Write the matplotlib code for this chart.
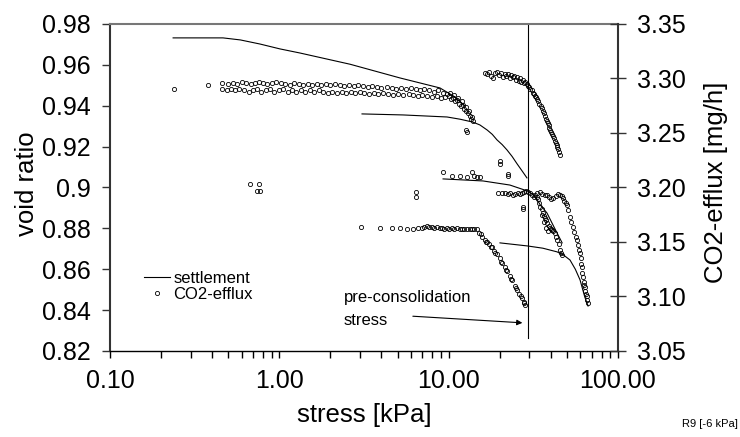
import matplotlib
matplotlib.use("Agg")
import matplotlib.pyplot as plt
from matplotlib.lines import Line2D
from matplotlib.ticker import NullFormatter

plt.rcParams['font.family'] = ['Liberation Sans', 'DejaVu Sans']

# settlement curves (void ratio, left axis)
s1_stress = [0.236, 0.465, 0.589, 0.769, 1.01, 1.325, 2.62, 5.16, 8.89, 10.9, 12.5]
s1_void = [0.9732, 0.9732, 0.9722, 0.9702, 0.9678, 0.9658, 0.9603, 0.9536, 0.9487, 0.9443, 0.9399]
s2_stress = [3.08, 5.38, 9.79, 11.7, 13.9, 15.3, 16.9, 18.1, 19.3, 20.7, 22.1, 23.7, 25.4, 27.1, 29.0]
s2_void = [0.936, 0.9355, 0.9345, 0.9334, 0.932, 0.9306, 0.9281, 0.926, 0.9233, 0.9210, 0.9184,
           0.9152, 0.9115, 0.9082, 0.9047]
s3_stress = [9.27, 15.96, 23.0, 29.2, 31.5, 33.2, 34.8, 36.4, 38.1, 42.0, 46.8]
s3_void = [0.9042, 0.9032, 0.9012, 0.8983, 0.8965, 0.8942, 0.8914, 0.8895, 0.8875, 0.8805, 0.8729]
s4_stress = [20.1, 29.2, 36.0, 43.7, 48.0, 52.1, 56.0, 59.7, 63.7, 66.6]
s4_void = [0.8729, 0.8714, 0.8703, 0.8685, 0.8668, 0.8645, 0.8600, 0.8548, 0.8464, 0.842]

# CO2 efflux (mg/h, right axis)
a_stress = [0.24, 0.38,
            0.46, 0.50, 0.53, 0.56, 0.60, 0.64, 0.68, 0.72, 0.76, 0.80, 0.85, 0.90, 0.96, 1.02, 1.08,
            1.15, 1.22, 1.30, 1.38, 1.47, 1.56, 1.66, 1.77, 1.88, 2.00, 2.13, 2.27, 2.42, 2.58, 2.75,
            2.93, 3.12, 3.32, 3.54, 3.77, 4.0, 4.3, 4.6, 4.9, 5.2, 5.6, 6.0, 6.4, 6.8, 7.2, 7.7, 8.2,
            8.7, 9.2, 9.8,
            0.46, 0.49, 0.52, 0.55, 0.58, 0.62, 0.66, 0.70, 0.74, 0.78, 0.83, 0.88, 0.93, 0.99, 1.05,
            1.12, 1.19, 1.26, 1.34, 1.42, 1.51, 1.61, 1.71, 1.82, 1.94, 2.06, 2.19, 2.33, 2.48, 2.64,
            2.81, 2.99, 3.18, 3.39, 3.61, 3.85, 4.1, 4.4, 4.7, 5.0, 5.4, 5.8, 6.2, 6.6, 7.0, 7.5, 8.0,
            8.5, 9.0, 9.5,
            10.0, 10.3, 10.6, 10.9, 11.2, 11.5, 11.8, 12.1, 12.4, 12.7, 13.0, 13.3, 13.6, 13.9,
            10.2, 10.8, 11.4, 12.0, 12.6, 13.2, 13.8]
a_co2 = [3.290, 3.294,
         3.296, 3.295, 3.296, 3.295, 3.297, 3.296, 3.295, 3.296, 3.297, 3.296, 3.295, 3.296, 3.297,
         3.296, 3.295, 3.294, 3.296, 3.295, 3.294, 3.295, 3.294, 3.295, 3.294, 3.295, 3.294, 3.295,
         3.294, 3.293, 3.294, 3.293, 3.294, 3.293, 3.292, 3.293, 3.292, 3.291, 3.292, 3.291, 3.290,
         3.291, 3.290, 3.291, 3.290, 3.289, 3.290, 3.289, 3.288, 3.289, 3.287, 3.286,
         3.290, 3.289, 3.290, 3.289, 3.290, 3.289, 3.288, 3.289, 3.290, 3.288, 3.289, 3.290, 3.288,
         3.289, 3.290, 3.288, 3.289, 3.288, 3.289, 3.288, 3.289, 3.288, 3.289, 3.288, 3.287, 3.288,
         3.287, 3.288, 3.287, 3.288, 3.287, 3.288, 3.287, 3.286, 3.287, 3.286, 3.287, 3.286, 3.285,
         3.286, 3.285, 3.286, 3.285, 3.284, 3.285, 3.284, 3.283, 3.284, 3.282, 3.283,
         3.284, 3.281, 3.282, 3.279, 3.280, 3.277, 3.275, 3.276, 3.272, 3.270, 3.268, 3.266, 3.263,
         3.261,
         3.287, 3.285, 3.282, 3.279, 3.274, 3.270, 3.265]

b_stress = [16.4, 16.9, 17.4, 17.9, 18.4, 18.9, 19.4, 19.9, 20.4, 20.9, 21.4, 21.9, 22.4, 22.9,
            23.4, 23.9, 24.4, 24.9, 25.4, 25.9, 26.4, 26.9, 27.4, 27.9, 28.4, 28.9, 29.4, 29.9,
            30.4, 30.9, 31.4, 31.9, 32.4, 32.9, 33.4, 33.9, 34.4, 34.9, 35.4, 35.9, 36.4, 36.9,
            37.4, 37.9, 38.4, 38.9, 39.4, 39.9, 40.4, 40.9, 41.4, 41.9, 42.4, 42.9, 43.4, 43.9,
            44.4, 44.9, 45.4]
b_co2 = [3.305, 3.304, 3.306, 3.302, 3.300, 3.305, 3.306, 3.303, 3.305, 3.301, 3.304, 3.302,
         3.304, 3.300, 3.303, 3.301, 3.302, 3.299, 3.301, 3.298, 3.300, 3.297, 3.299, 3.296,
         3.297, 3.295, 3.293, 3.292, 3.290, 3.289, 3.287, 3.286, 3.284, 3.283, 3.281, 3.279,
         3.277, 3.275, 3.273, 3.270, 3.268, 3.266, 3.263, 3.261, 3.259, 3.257, 3.255, 3.253,
         3.251, 3.249, 3.247, 3.245, 3.243, 3.241, 3.239, 3.237, 3.235, 3.233, 3.230]

c_stress = [9.27, 10.5, 11.7, 12.8, 13.7, 14.2, 14.7, 15.3,
            19.6, 20.6, 21.5, 22.3, 23.1, 24.0, 24.8, 25.6, 26.4, 27.2, 28.0, 28.8, 29.6, 30.4,
            31.2, 32.0,
            32.5, 33.2, 33.7, 34.2, 34.8, 35.4, 36.1, 36.6, 37.0, 37.6, 38.1, 38.9, 39.7, 40.3,
            40.8, 41.6, 42.4, 43.0, 43.7, 44.6, 45.5, 46.2, 46.8, 35.8, 36.8, 37.8, 38.5,
            33.3, 34.5, 35.7, 36.9, 38.1, 39.2, 40.4, 41.6, 42.8, 44.0, 45.5, 46.5, 47.4, 48.2,
            49.1, 50.0, 51.0, 52.0, 53.1, 54.2, 55.3, 56.3, 57.2, 58.0, 58.8, 59.5, 60.2, 60.8,
            61.2, 61.6, 62.0, 62.7, 63.2, 63.7, 64.3, 64.9, 65.5, 66.0, 66.3]
c_co2 = [3.214, 3.211, 3.211, 3.210, 3.214, 3.211, 3.210, 3.210,
         3.195, 3.195, 3.195, 3.194, 3.195, 3.193, 3.194, 3.195, 3.194, 3.195, 3.196, 3.197,
         3.196, 3.195, 3.193, 3.191,
         3.193, 3.191, 3.189, 3.186, 3.182, 3.180, 3.177, 3.174, 3.172, 3.170, 3.167, 3.165,
         3.163, 3.162, 3.161, 3.160, 3.158, 3.155, 3.152, 3.148, 3.143, 3.140, 3.138, 3.175,
         3.168, 3.163, 3.160,
         3.195, 3.196, 3.194, 3.193, 3.193, 3.191, 3.189, 3.190, 3.192, 3.194, 3.193, 3.192,
         3.190, 3.188, 3.186, 3.184, 3.179, 3.173, 3.168, 3.164, 3.159, 3.155, 3.152, 3.147,
         3.143, 3.140, 3.135, 3.130, 3.127, 3.122, 3.118, 3.113, 3.111, 3.109, 3.105, 3.102,
         3.100, 3.097, 3.094]

d_stress = [3.04, 3.93, 4.63, 5.16, 5.67, 6.15, 6.6, 6.95, 7.2, 7.45, 7.7, 7.98, 8.25, 8.54, 8.85,
            9.14, 9.45, 9.79, 10.1, 10.47, 10.8, 11.2, 11.6, 12.0, 12.4, 12.85, 13.3, 13.75, 14.2,
            14.7, 15.2, 15.7, 16.3, 16.9, 17.4, 18.0, 18.6, 19.3, 20.0, 20.7, 21.4, 22.1, 22.9,
            23.7, 24.5, 25.4, 26.2, 27.1, 27.7, 28.3,
            15.5, 16.6, 17.7, 18.9, 20.3, 21.8, 23.3, 24.9, 26.6, 28.0]
d_co2 = [3.164, 3.163, 3.163, 3.163, 3.162, 3.162, 3.163, 3.163, 3.164, 3.165, 3.164, 3.164,
         3.163, 3.164, 3.163, 3.163, 3.162, 3.163, 3.162, 3.163, 3.162, 3.163, 3.162, 3.162,
         3.162, 3.162, 3.162, 3.162, 3.162, 3.162, 3.158, 3.155, 3.152, 3.150, 3.148, 3.145,
         3.142, 3.139, 3.135, 3.131, 3.127, 3.123, 3.119, 3.115, 3.110, 3.106, 3.102, 3.099,
         3.095, 3.092,
         3.157, 3.150, 3.145, 3.140, 3.132, 3.124, 3.116, 3.108, 3.100, 3.094]

# stray measurements
e_stress = [0.67, 0.76, 0.74, 0.77, 12.7, 12.8, 20.1, 20.2, 22.4, 22.5, 6.4, 6.45, 27.5, 27.6]
e_co2 = [3.203, 3.203, 3.197, 3.197, 3.253, 3.251, 3.224, 3.222, 3.212, 3.211, 3.196, 3.191,
         3.182, 3.180]

pc_stress = 29.5

x_ticks = [0.1, 1, 10, 100]
x_labels = ["0.10", "1.00", "10.00", "100.00"]
void_ticks = [0.82, 0.84, 0.86, 0.88, 0.90, 0.92, 0.94, 0.96, 0.98]
void_labels = ["0.82", "0.84", "0.86", "0.88", "0.9", "0.92", "0.94", "0.96", "0.98"]
co2_ticks = [3.05, 3.10, 3.15, 3.20, 3.25, 3.30, 3.35]
co2_labels = ["3.05", "3.10", "3.15", "3.20", "3.25", "3.30", "3.35"]

fig = plt.figure(figsize=(7.4, 4.37), dpi=100)
ax = fig.add_axes([0.1486, 0.1968, 0.6865, 0.7483])
ax2 = ax.twinx()

for xs, ys in [(s1_stress, s1_void), (s2_stress, s2_void), (s3_stress, s3_void), (s4_stress, s4_void)]:
    ax.plot(xs, ys, color='black', lw=0.8)

for xs, ys in [(a_stress, a_co2), (b_stress, b_co2), (c_stress, c_co2), (d_stress, d_co2), (e_stress, e_co2)]:
    ax2.plot(xs, ys, 'o', ls='none', ms=3, mfc='none', mec='black', mew=0.6)

ax.axvline(pc_stress, ymin=0.04, ymax=1, color='black', lw=0.8)

ax.set_xscale('log')
ax.set_xlim(0.1, 100)
ax.set_ylim(0.82, 0.98)
ax2.set_ylim(3.05, 3.35)
ax.set_xticks(x_ticks, labels=x_labels)
ax.xaxis.set_minor_formatter(NullFormatter())
ax.set_yticks(void_ticks, labels=void_labels)
ax2.set_yticks(co2_ticks, labels=co2_labels)

ax.tick_params(axis='y', direction='out', length=6, width=1, color='#333333', labelsize=18, pad=8)
ax.tick_params(axis='x', which='both', direction='out', length=5, width=1, labelsize=18, pad=8)
ax2.tick_params(axis='y', direction='inout', length=12, width=1, color='#333333', labelsize=18, pad=8)

ax.spines['top'].set_color('#777777')
ax.spines['top'].set_linewidth(1.5)
ax.spines['left'].set_color('#333333')
ax.spines['left'].set_linewidth(1.5)
ax.spines['bottom'].set_color('black')
ax.spines['bottom'].set_linewidth(1)
ax.spines['right'].set_visible(False)
for s in ['top', 'left', 'bottom']:
    ax2.spines[s].set_visible(False)
ax2.spines['right'].set_color('#333333')
ax2.spines['right'].set_linewidth(1.5)

ax.set_xlabel("stress [kPa]", fontsize=18.5)
ax.xaxis.set_label_coords(0.5, -0.16)
fig.text(27 / 740, 1 - 184 / 437, "void ratio", rotation=90, ha='center', va='center', fontsize=18.5)
fig.text(716 / 740, 1 - 182 / 437, "CO2-efflux [mg/h]", rotation=90, ha='center', va='center', fontsize=18.5)

# pre-consolidation annotation
ax.text(0.4606, 0.1498, "pre-consolidation", transform=ax.transAxes, fontsize=12, va='baseline')
ax.text(0.4606, 0.0795, "stress", transform=ax.transAxes, fontsize=12, va='baseline')
ax.annotate("", xy=(28.3, 0.8337), xytext=(5.92, 0.8371),
            arrowprops=dict(arrowstyle='-|>', color='black', lw=0.8, mutation_scale=8))

handles = [Line2D([], [], color='black', lw=0.8),
           Line2D([], [], marker='o', ls='none', ms=3, mfc='none', mec='black', mew=0.6)]
ax.legend(handles, ["settlement", "CO2-efflux"], loc='upper left', bbox_to_anchor=(0.0669, 0.245),
          frameon=False, fontsize=12, borderpad=0, borderaxespad=0, labelspacing=0.05,
          handlelength=1.56, handletextpad=0.2)

fig.text(0.997, 1 - 424 / 437, "R9 [-6 kPa]", ha='right', va='center', fontsize=8)

fig.savefig("out.png", dpi=100)
